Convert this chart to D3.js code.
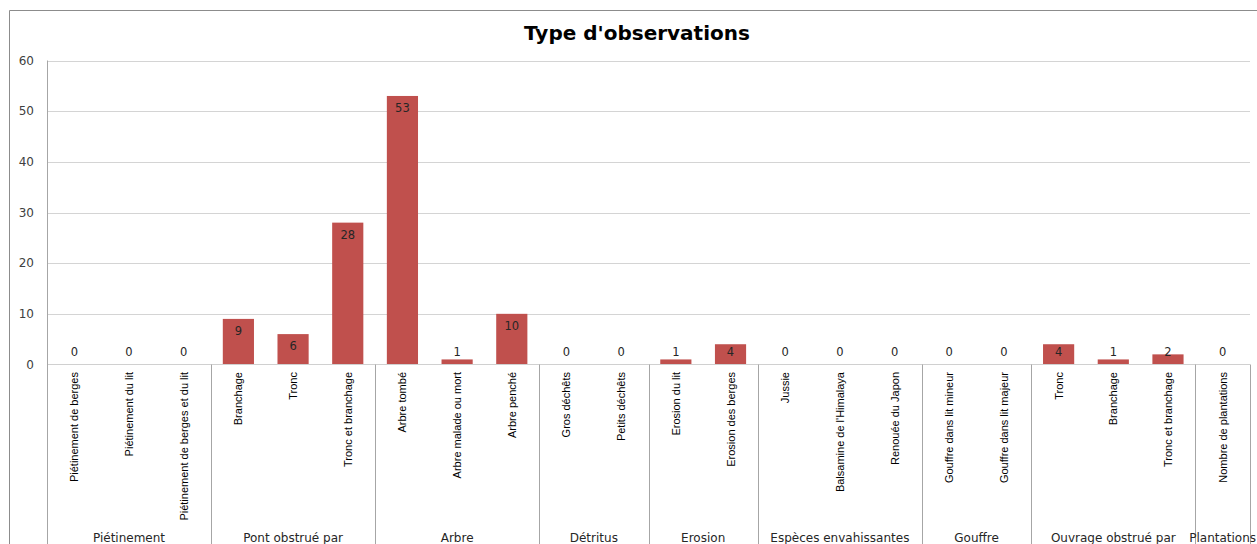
<!DOCTYPE html>
<html>
<head>
<meta charset="utf-8">
<script src="https://cdn.jsdelivr.net/npm/d3@7"></script>
<style>
  body { margin: 0; background: #fff; }
  svg { display: block; }
</style>
</head>
<body>
<svg id="svg" width="1257" height="544"></svg>
<script>
// chart data
const groups = ["Piétinement", "Pont obstrué par", "Arbre", "Détritus", "Erosion",
  "Espèces envahissantes", "Gouffre", "Ouvrage obstrué par", "Plantations"];
const groupSizes = [3, 3, 3, 2, 2, 3, 2, 3, 1];
const categories = [
  "Piétinement de berges", "Piétinement du lit", "Piétinement de berges et du lit",
  "Branchage", "Tronc", "Tronc et branchage",
  "Arbre tombé", "Arbre malade ou mort", "Arbre penché",
  "Gros déchêts", "Petits déchêts",
  "Erosion du lit", "Erosion des berges",
  "Jussie", "Balsamine de l'Himalaya", "Renouée du Japon",
  "Gouffre dans lit mineur", "Gouffre dans lit majeur",
  "Tronc", "Branchage", "Tronc et branchage",
  "Nombre de plantations"
];
const values = [0, 0, 0, 9, 6, 28, 53, 1, 10, 0, 0, 1, 4, 0, 0, 0, 0, 0, 4, 1, 2, 0];
const yTicks = [0, 10, 20, 30, 40, 50, 60];

const svg = d3.select("#svg");
const plotLeft = 47, plotRight = 1250, plotTop = 60.5, base = 364.5;

const keys = categories.map((c, i) => i);
const x = d3.scaleBand().domain(keys).range([plotLeft, plotRight]).paddingInner(0.43).paddingOuter(0.215);
const y = d3.scaleLinear().domain([0, 60]).range([base, plotTop]);

// outer frame
svg.append("path").attr("d", "M9.5,544 V10.5 H1257").attr("fill", "none").attr("stroke", "#8c8c8c");

// title
svg.append("text").attr("x", 637).attr("y", 40).attr("text-anchor", "middle")
  .attr("font-family", "DejaVu Sans, sans-serif").attr("font-weight", "bold").attr("font-size", 20)
  .attr("fill", "#000").text("Type d'observations");

// gridlines
svg.append("g").selectAll("line").data(yTicks.filter(t => t > 0)).join("line")
  .attr("x1", plotLeft).attr("x2", plotRight)
  .attr("y1", d => Math.round(y(d)) + 0.5).attr("y2", d => Math.round(y(d)) + 0.5)
  .attr("stroke", "#d4d4d4");

// y tick labels
svg.append("g").selectAll("text").data(yTicks).join("text")
  .attr("x", 34).attr("y", d => y(d) + 4).attr("text-anchor", "end")
  .attr("font-family", "DejaVu Sans, sans-serif").attr("font-size", 12).attr("fill", "#404040")
  .text(d => d);

// bars
svg.append("g").selectAll("rect").data(values).join("rect")
  .attr("x", (d, i) => x(i)).attr("width", x.bandwidth())
  .attr("y", d => y(d)).attr("height", d => base - y(d))
  .attr("fill", "#c0504d");

// value labels
svg.append("g").selectAll("text").data(values).join("text")
  .attr("x", (d, i) => x(i) + x.bandwidth() / 2)
  .attr("y", d => Math.min(y(d) + 12, 352) + 4)
  .attr("text-anchor", "middle")
  .attr("font-family", "DejaVu Sans, sans-serif").attr("font-size", 11.5).attr("fill", "#262626")
  .text(d => d);

// axes lines
svg.append("line").attr("x1", plotLeft).attr("x2", plotRight).attr("y1", base).attr("y2", base).attr("stroke", "#d0d0d0");
svg.append("line").attr("x1", plotLeft + 0.5).attr("x2", plotLeft + 0.5).attr("y1", plotTop).attr("y2", 544).attr("stroke", "#a6a6a6");

// group dividers and labels
const step = x.step();
let start = 0;
const spans = groupSizes.map(n => { const s = { from: start, to: start + n }; start += n; return s; });
svg.append("g").selectAll("line").data(spans).join("line")
  .attr("x1", d => Math.round(plotLeft + d.to * step) + 0.5).attr("x2", d => Math.round(plotLeft + d.to * step) + 0.5)
  .attr("y1", base).attr("y2", 544).attr("stroke", "#a6a6a6");
svg.append("g").selectAll("text").data(spans).join("text")
  .attr("x", d => plotLeft + (d.from + d.to) / 2 * step).attr("y", 542)
  .attr("text-anchor", "middle")
  .attr("font-family", "DejaVu Sans, sans-serif").attr("font-size", 12).attr("fill", "#262626")
  .text((d, i) => groups[i]);

// category labels, rotated
svg.append("g").selectAll("text").data(categories).join("text")
  .attr("transform", (d, i) => `translate(${x(i) + x.bandwidth() / 2 + 4},372) rotate(-90)`)
  .attr("text-anchor", "end")
  .attr("font-family", "Liberation Sans Narrow, Arial Narrow, sans-serif").attr("font-size", 11).attr("fill", "#000")
  .text(d => d);
</script>
</body>
</html>
